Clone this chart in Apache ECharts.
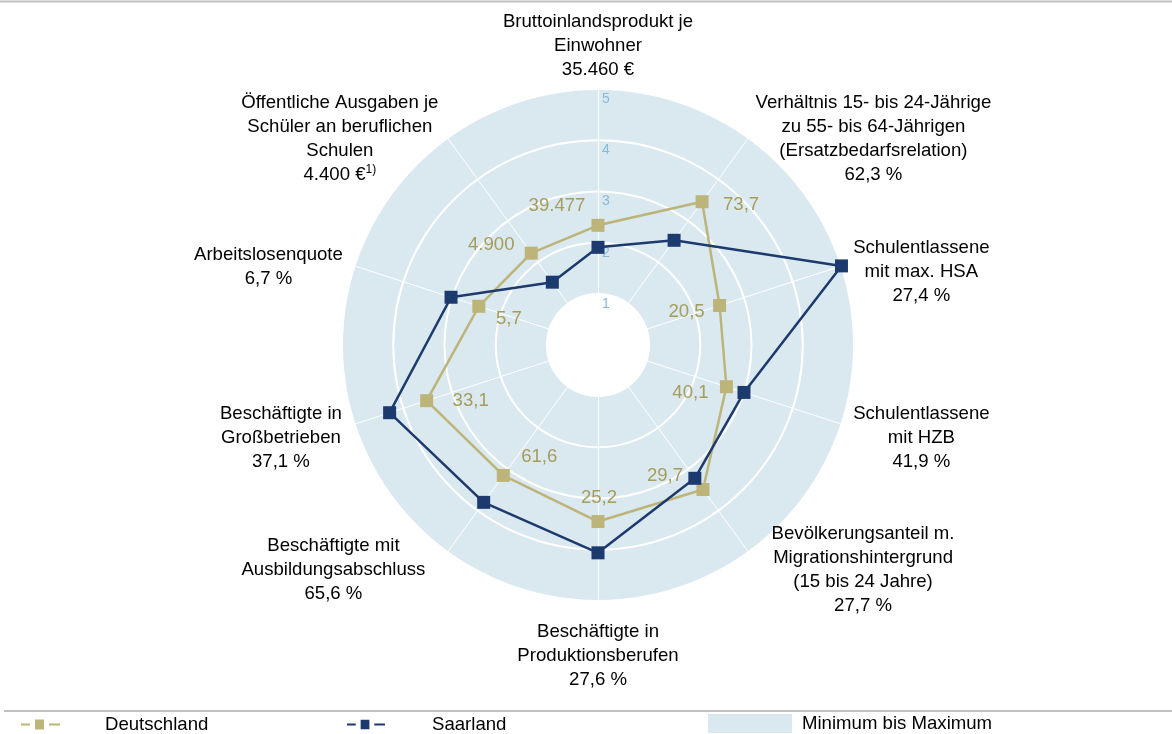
<!DOCTYPE html>
<html>
<head>
<meta charset="utf-8">
<script src="https://cdn.jsdelivr.net/npm/echarts@6/dist/echarts.min.js"></script>
<style>
  html, body { margin: 0; padding: 0; background: #fff; }
  #chart { width: 1172px; height: 734px; }
</style>
</head>
<body>
<div id="chart"></div>
<script>
// Indikatoren im Uhrzeigersinn, oben beginnend
const indicatorNames = [
  'Bruttoinlandsprodukt je\nEinwohner',
  'Verhältnis 15- bis 24-Jährige\nzu 55- bis 64-Jährigen\n(Ersatzbedarfsrelation)',
  'Schulentlassene\nmit max. HSA',
  'Schulentlassene\nmit HZB',
  'Bevölkerungsanteil m.\nMigrationshintergrund\n(15 bis 24 Jahre)',
  'Beschäftigte in\nProduktionsberufen',
  'Beschäftigte mit\nAusbildungsabschluss',
  'Beschäftigte in\nGroßbetrieben',
  'Arbeitslosenquote',
  'Öffentliche Ausgaben je\nSchüler an beruflichen\nSchulen'
];
const indicatorValues = ['35.460 €', '62,3 %', '27,4 %', '41,9 %', '27,7 %', '27,6 %', '65,6 %', '37,1 %', '6,7 %', '4.400 €'];
const footnotes = ['', '', '', '', '', '', '', '', '', '1)'];
const scaleMin = 1;
const scaleMax = 5;

// Skalenwerte (1 bis 5)
const deutschland = [2.34, 3.46, 2.50, 2.64, 3.49, 3.45, 3.15, 3.52, 2.45, 2.22];
const deutschlandLabels = ['39.477', '73,7', '20,5', '40,1', '29,7', '25,2', '61,6', '33,1', '5,7', '4.900'];
const saarland = [1.91, 2.53, 5.00, 3.00, 3.22, 4.06, 3.80, 4.28, 3.02, 1.52];

const font = 'Liberation Sans, Arial, sans-serif';
const colDE = '#bcb478';
const colSL = '#1d3a6e';
const colBand = '#dae9ef';

// Lage der Beschriftungen an den Punkten (Deutschland)
const labelOffsets = [[-41, -19], [39, 3], [-33, 6], [-36, 6], [-38, -14], [1, -24], [36, -19], [44, 0], [30, 13], [-40, -8]];
// Verschiebung der Achsennamen: [Abstand oben, rechts, links]
const nameShift = [[0, 0, 0], [14, 0, 3], [16, 0, 5], [24, 0, 5], [24, 0, 19],
  [12, 0, 0], [24, 18, 0], [24, 6, 0], [6, 5, 0], [14, 5, 0]];

const step = 360 / indicatorNames.length;

function polarData(values, labels) {
  const items = values.map(function (v, i) {
    const item = { value: [v, i * step] };
    if (labels) {
      item.label = { show: true, formatter: labels[i], offset: labelOffsets[i] };
    }
    return item;
  });
  items.push({ value: [values[0], 360], symbolSize: 0 });
  return items;
}

const rich = {};
nameShift.forEach(function (s, i) {
  const base = { fontFamily: font, fontSize: 18.6, lineHeight: 24, color: '#000', align: 'center' };
  rich['f' + i] = Object.assign({}, base, { lineHeight: 24 + s[0], padding: [s[0], s[1], 0, s[2]] });
  rich['n' + i] = Object.assign({}, base, { padding: [0, s[1], 0, s[2]] });
  // Zeile mit Fußnote: rechter Abstand hinter die Hochzahl
  rich['v' + i] = Object.assign({}, base, { padding: [0, 0, 0, s[2]] });
  rich['s' + i] = { fontFamily: font, fontSize: 12, lineHeight: 12, color: '#000', align: 'center', verticalAlign: 'top', padding: [0, s[1], 0, 0] };
});

// Radar läuft gegen den Uhrzeigersinn: Reihenfolge umdrehen (erster bleibt oben)
const radarOrder = [0].concat(indicatorNames.map(function (n, i) { return i; }).slice(1).reverse());

const chart = echarts.init(document.getElementById('chart'));
const option = {
  animation: false,
  radar: {
    center: [598, 345],
    radius: [51, 256],
    startAngle: 90,
    shape: 'circle',
    splitNumber: scaleMax - scaleMin,
    nameGap: 7,
    indicator: radarOrder.map(function (i) {
      const ind = { name: indicatorNames[i], min: scaleMin, max: scaleMax };
      if (i === 0) ind.axisLabel = { show: true };
      return ind;
    }),
    axisName: {
      fontFamily: font,
      fontSize: 18.6,
      lineHeight: 24,
      color: '#000',
      rich: rich,
      formatter: function (name) {
        const i = indicatorNames.indexOf(name);
        const lines = name.split('\n').map(function (l, k) {
          return '{' + (k === 0 ? 'f' : 'n') + i + '|' + l + '}';
        });
        if (footnotes[i]) {
          lines.push('{v' + i + '|' + indicatorValues[i] + '}{s' + i + '|' + footnotes[i] + '}');
        } else {
          lines.push('{n' + i + '|' + indicatorValues[i] + '}');
        }
        return lines.join('\n');
      }
    },
    axisLine: { lineStyle: { color: '#ffffff', width: 1 } },
    axisTick: { show: false },
    axisLabel: { show: false, color: '#86bbd6', fontSize: 14, fontFamily: font, margin: -4, align: 'left', verticalAlign: 'top', padding: [3, 0, 0, 0] },
    splitLine: { lineStyle: { color: '#ffffff', width: 2 } },
    splitArea: { areaStyle: { color: [colBand] } }
  },
  polar: { center: [598, 345], radius: [51, 256] },
  angleAxis: { type: 'value', min: 0, max: 360, startAngle: 90, clockwise: true, show: false },
  radiusAxis: { type: 'value', min: scaleMin, max: scaleMax, show: false },
  legend: [
    {
      data: [{ name: 'Deutschland', icon: 'path://M0,4h9v2h-9z M14,0h9v10h-9z M28,4h11v2h-11z' }],
      left: 21, top: 715, padding: 0, itemWidth: 39, itemHeight: 10, selectedMode: false,
      textStyle: { fontFamily: font, fontSize: 18.6, color: '#000', padding: [0, 0, 0, 40] }
    },
    {
      data: [{ name: 'Saarland', icon: 'path://M0,4h9v2h-9z M14,0h9v10h-9z M28,4h11v2h-11z' }],
      left: 347, top: 715, padding: 0, itemWidth: 38, itemHeight: 10, selectedMode: false,
      textStyle: { fontFamily: font, fontSize: 18.6, color: '#000', padding: [0, 0, 0, 42] }
    },
    {
      data: [{ name: 'Minimum bis Maximum', icon: 'rect' }],
      left: 708, top: 714, padding: 0, itemWidth: 84, itemHeight: 19, selectedMode: false,
      textStyle: { fontFamily: font, fontSize: 18.6, color: '#000', padding: [0, 0, 0, 5] }
    }
  ],
  graphic: [
    { type: 'line', shape: { x1: 0, y1: 1.5, x2: 1172, y2: 1.5 }, style: { stroke: '#c0c0c0', lineWidth: 2 } },
    { type: 'line', shape: { x1: 4, y1: 711, x2: 1172, y2: 711 }, style: { stroke: '#c0c0c0', lineWidth: 2 } }
  ],
  series: [
    {
      name: 'Minimum bis Maximum',
      type: 'line',
      coordinateSystem: 'polar',
      data: [],
      itemStyle: { color: colBand }
    },
    {
      name: 'Deutschland',
      type: 'line',
      coordinateSystem: 'polar',
      data: polarData(deutschland, deutschlandLabels),
      symbol: 'rect',
      symbolSize: 13,
      lineStyle: { color: colDE, width: 2.5 },
      itemStyle: { color: colDE },
      label: { position: 'inside', color: '#a69c5b', fontSize: 18.6, fontFamily: font },
      z: 3
    },
    {
      name: 'Saarland',
      type: 'line',
      coordinateSystem: 'polar',
      data: polarData(saarland),
      symbol: 'rect',
      symbolSize: 13,
      lineStyle: { color: colSL, width: 2.5 },
      itemStyle: { color: colSL },
      z: 4
    }
  ]
};
chart.setOption(option);
</script>
</body>
</html>
